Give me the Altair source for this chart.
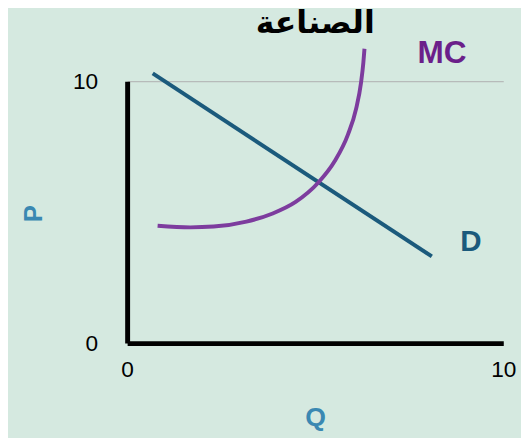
import altair as alt
import pandas as pd

# Demand line (Q, P)
d_q = [0.68, 8.10]
d_p = [10.3, 3.31]

# Marginal cost curve (Q, P)
mc_q = [0.81, 1.68, 2.30, 3.17, 3.87, 4.48, 5.09, 5.52, 5.87, 6.09, 6.22, 6.28, 6.31]
mc_p = [4.48, 4.42, 4.45, 4.64, 4.95, 5.39, 6.14, 6.95, 7.96, 8.96, 9.96, 10.71, 11.24]

# Curve labels
lab_text = ["MC", "D"]
lab_q = [8.37, 9.14]
lab_p = [11.09, 3.85]
lab_color = ["#6b1f8a", "#1b5a7c"]
lab_size = [32, 30]

title_text = "الصناعة"
x_ticks = [0, 10]
y_ticks = [0, 10]

d_df = pd.DataFrame({"Q": d_q, "P": d_p})
mc_df = pd.DataFrame({"Q": mc_q, "P": mc_p})
lab_df = pd.DataFrame({"t": lab_text, "Q": lab_q, "P": lab_p, "c": lab_color, "s": lab_size})

xs = alt.Scale(domain=[0, 10], nice=False)
ys = alt.Scale(domain=[0, 10], nice=False)

x_axis = alt.Axis(
    values=x_ticks, grid=False, tickSize=0, labelPadding=16,
    labelFontSize=23, labelFont="Liberation Sans", labelColor="black",
    domainColor="black", domainWidth=5,
    title="Q", titleFontSize=27, titleFont="Liberation Sans", titleFontWeight="bold",
    titleColor="#3a88b2", titleX=191, titleY=76, titleBaseline="middle", titleAlign="center",
    labelFlush=False,
)
y_axis = alt.Axis(
    values=y_ticks, grid=True, gridColor="#b0b0b0", gridWidth=1, tickSize=0, labelPadding=30,
    labelFontSize=23, labelFont="Liberation Sans", labelColor="black",
    domainColor="black", domainWidth=5,
    title="P", titleFontSize=26, titleFont="Liberation Sans", titleFontWeight="bold",
    titleColor="#3a88b2", titleX=-95, titleY=134, titleBaseline="middle", titleAlign="center",
    titleAngle=270, labelFlush=False,
)

d_line = alt.Chart(d_df).mark_line(color="#1b5a7c", strokeWidth=4, clip=False).encode(
    x=alt.X("Q:Q", scale=xs, axis=x_axis),
    y=alt.Y("P:Q", scale=ys, axis=y_axis),
)
mc_line = alt.Chart(mc_df).mark_line(color="#7d3c9e", strokeWidth=4, clip=False, interpolate="monotone").encode(
    x=alt.X("Q:Q", scale=xs),
    y=alt.Y("P:Q", scale=ys),
)
labels = alt.Chart(lab_df).mark_text(font="Liberation Sans", fontWeight="bold", clip=False).encode(
    x=alt.X("Q:Q", scale=xs),
    y=alt.Y("P:Q", scale=ys),
    text="t:N",
    color=alt.Color("c:N", scale=None),
    size=alt.Size("s:Q", scale=None),
)

chart = alt.layer(d_line, mc_line, labels).properties(
    width=382, height=266,
    title=alt.TitleParams(title_text, fontSize=32, font="DejaVu Sans", fontWeight="bold",
                          color="black", anchor="middle", offset=-3),
    autosize=alt.AutoSizeParams(type="none"),
    padding={"left": 121, "top": 71, "right": 18, "bottom": 93},
).configure(background="#d5e9e0").configure_view(stroke=None)

chart.save("out.html", embed_options={"renderer": "svg", "actions": False})
